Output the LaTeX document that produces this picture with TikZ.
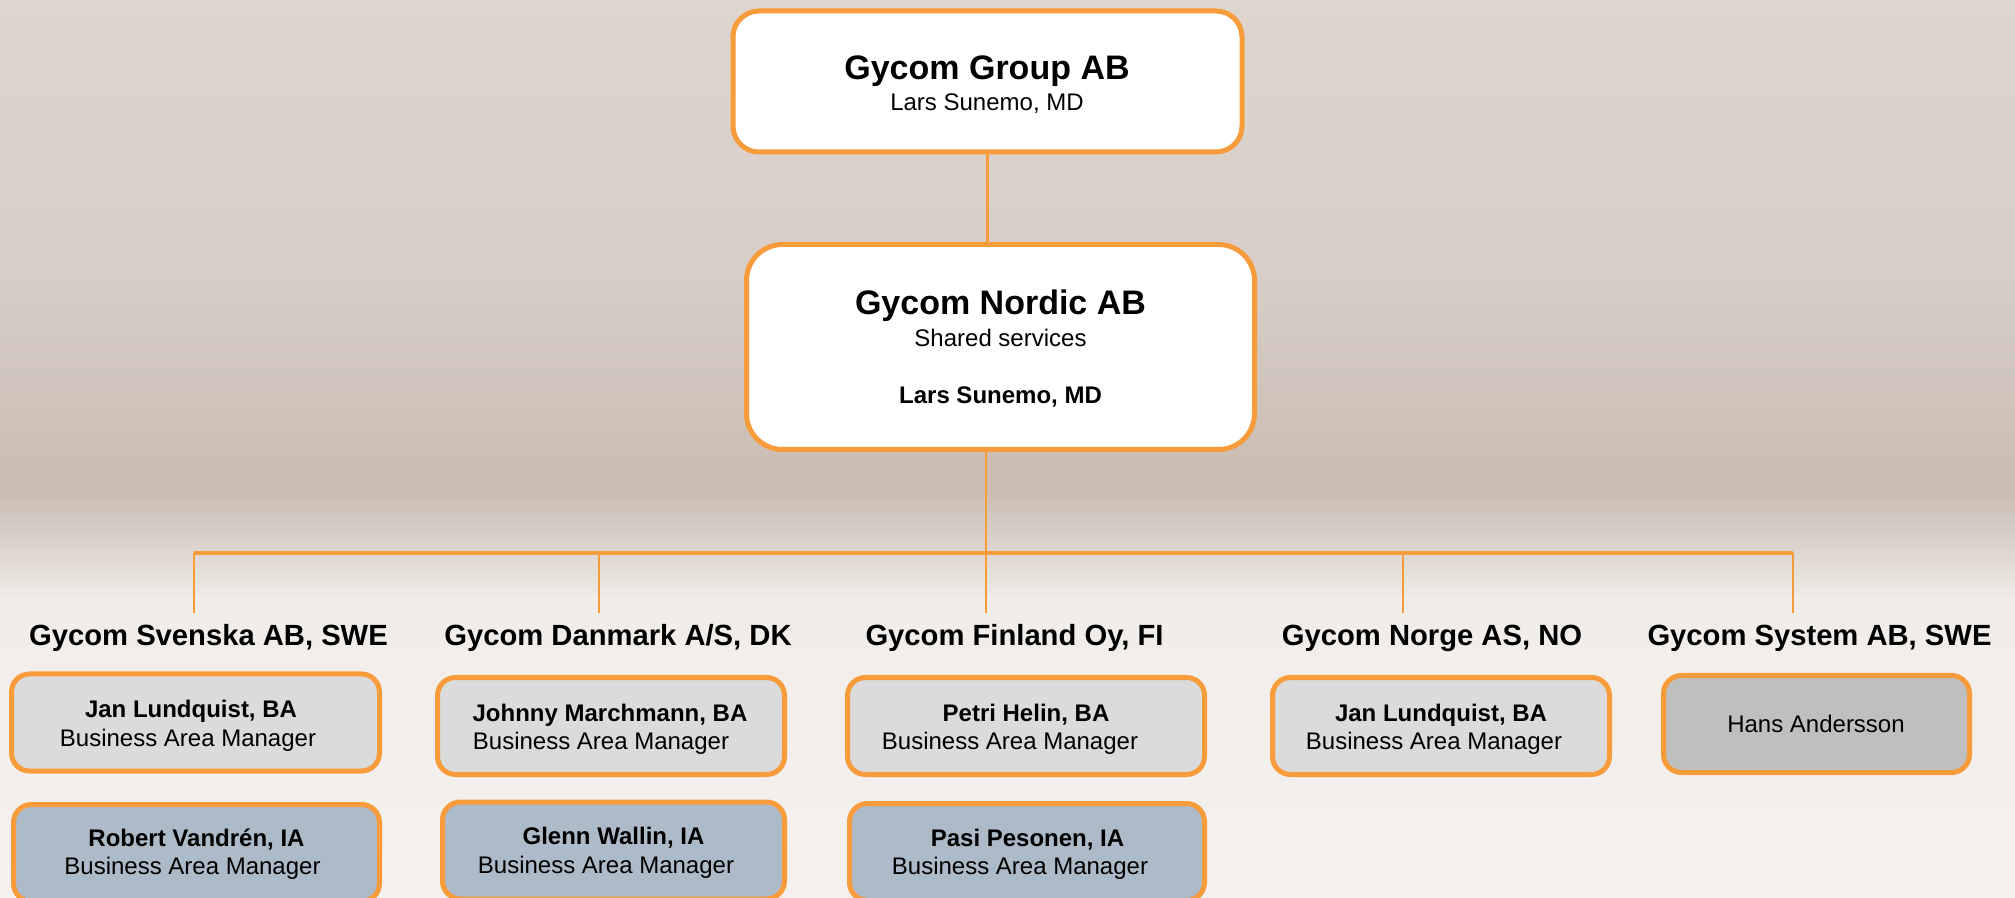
\documentclass[tikz,border=0pt]{standalone}
\usepackage{fontspec}
\setmainfont{Liberation Sans}
\definecolor{orng}{HTML}{F89B3B}
\definecolor{bgA}{HTML}{DED5CF}
\definecolor{bgB}{HTML}{D8CEC7}
\definecolor{bgC}{HTML}{C9BCB2}
\definecolor{bgD}{HTML}{DAD1CA}
\definecolor{bgE}{HTML}{F1EDE9}
\definecolor{bgF}{HTML}{F4F1EE}
\definecolor{lgray}{HTML}{DBDBDB}
\definecolor{mgray}{HTML}{BFBFBF}
\definecolor{bluegray}{HTML}{ADBAC8}
\begin{document}
\begin{tikzpicture}[x=0.5pt,y=-0.5pt,
  box/.style={draw=orng,line width=2.5pt,rounded corners=9pt,inner sep=0pt},
  topbox/.style={box,fill=white},
  babox/.style={box,fill=lgray,minimum height=48.5pt},
  iabox/.style={box,fill=bluegray,minimum height=48.5pt},
  sysbox/.style={box,fill=mgray,minimum height=48.5pt},
  title/.style={font=\fontsize{17}{20}\selectfont\bfseries,inner sep=0pt,anchor=base},
  sub/.style={font=\fontsize{12}{14}\selectfont,inner sep=0pt,anchor=base},
  subb/.style={font=\fontsize{12}{14}\selectfont\bfseries,inner sep=0pt,anchor=base},
  header/.style={font=\fontsize{14.6}{17}\selectfont\bfseries,inner xsep=0pt,inner ysep=5.5pt,text height=11pt,anchor=base},
  conn/.style={draw=orng,line width=1.1pt},
  bus/.style={draw=orng,line width=1.8pt}
]
\useasboundingbox (0,0) rectangle (2015,898);
\clip (0,0) rectangle (2015,898);
% background
\shade[top color=bgA,bottom color=bgB] (0,0) rectangle (2015,271);
\shade[top color=bgB,bottom color=bgC] (0,270) rectangle (2015,491);
\shade[top color=bgC,bottom color=bgD] (0,490) rectangle (2015,541);
\shade[top color=bgD,bottom color=bgE] (0,540) rectangle (2015,601);
\shade[top color=bgE,bottom color=bgF] (0,600) rectangle (2015,898);

% top boxes
\node[topbox,minimum width=254.5pt,minimum height=70.5pt,rounded corners=13pt] (group) at (987.5,81.5) {};
\node[title] (groupt) at (987,80) {Gycom Group AB};
\node[sub] (groupn) at (987,111) {Lars Sunemo, MD};

\node[topbox,minimum width=254pt,minimum height=102.5pt,rounded corners=18pt] (nordic) at (1000.5,347) {};
\node[title] (nordict) at (1000.5,315) {Gycom Nordic AB};
\node[sub] (nordics) at (1000.5,347) {Shared services};
\node[subb] (nordicn) at (1000.5,404) {Lars Sunemo, MD};

% bus coordinates
\coordinate (d1) at (194,553);
\coordinate (d2) at (599,553);
\coordinate (d3) at (986,553);
\coordinate (d4) at (1403,553);
\coordinate (d5) at (1793,553);

% headers
\node[header] (svh) at (208.5,646) {Gycom Svenska AB, SWE};
\node[header] (dkh) at (618,646) {Gycom Danmark A/S, DK};
\node[header] (fih) at (1014.5,646) {Gycom Finland Oy, FI};
\node[header] (noh) at (1432,646) {Gycom Norge AS, NO};
\node[header] (syh) at (1819.5,646) {Gycom System AB, SWE};

% connectors
\draw[conn] (group.south) -- (group.south |- nordic.north);
\draw[bus] (d1) -- (d5);
\draw[conn] (nordic.south -| d3) -- (d3 |- fih.north);
\draw[conn] (d1) -- (d1 |- svh.north);
\draw[conn] (d2) -- (d2 |- dkh.north);
\draw[conn] (d4) -- (d4 |- noh.north);
\draw[conn] (d5) -- (d5 |- syh.north);

% row 1
\node[babox,minimum width=184pt] (sv1) at (195.5,722.5) {};
\node[subb] (sv1n) at (191,718) {Jan Lundquist, BA};
\node[sub] (sv1r) at (188,746) {Business Area Manager};

\node[babox,minimum width=173.5pt] (dk1) at (611,726) {};
\node[subb] (dk1n) at (610,721) {Johnny Marchmann, BA};
\node[sub] (dk1r) at (601,749) {Business Area Manager};

\node[babox,minimum width=178.5pt] (fi1) at (1026,726) {};
\node[subb] (fi1n) at (1026,721) {Petri Helin, BA};
\node[sub] (fi1r) at (1010,749) {Business Area Manager};

\node[babox,minimum width=168.5pt] (no1) at (1441,726) {};
\node[subb] (no1n) at (1441,721) {Jan Lundquist, BA};
\node[sub] (no1r) at (1434,749) {Business Area Manager};

\node[sysbox,minimum width=153pt] (sy1) at (1816.5,724) {};
\node[sub] (sy1n) at (1816,733) {Hans Andersson};

% row 2
\node[iabox,minimum width=183pt] (sv2) at (196.5,853) {};
\node[subb] (sv2n) at (196.5,846) {Robert Vandrén, IA};
\node[sub] (sv2r) at (192.5,874) {Business Area Manager};

\node[iabox,minimum width=171pt] (dk2) at (613.5,850.5) {};
\node[subb] (dk2n) at (613.5,844) {Glenn Wallin, IA};
\node[sub] (dk2r) at (606,873) {Business Area Manager};

\node[iabox,minimum width=177.5pt] (fi2) at (1027,852) {};
\node[subb] (fi2n) at (1027.5,846) {Pasi Pesonen, IA};
\node[sub] (fi2r) at (1020,874) {Business Area Manager};
\end{tikzpicture}
\end{document}
